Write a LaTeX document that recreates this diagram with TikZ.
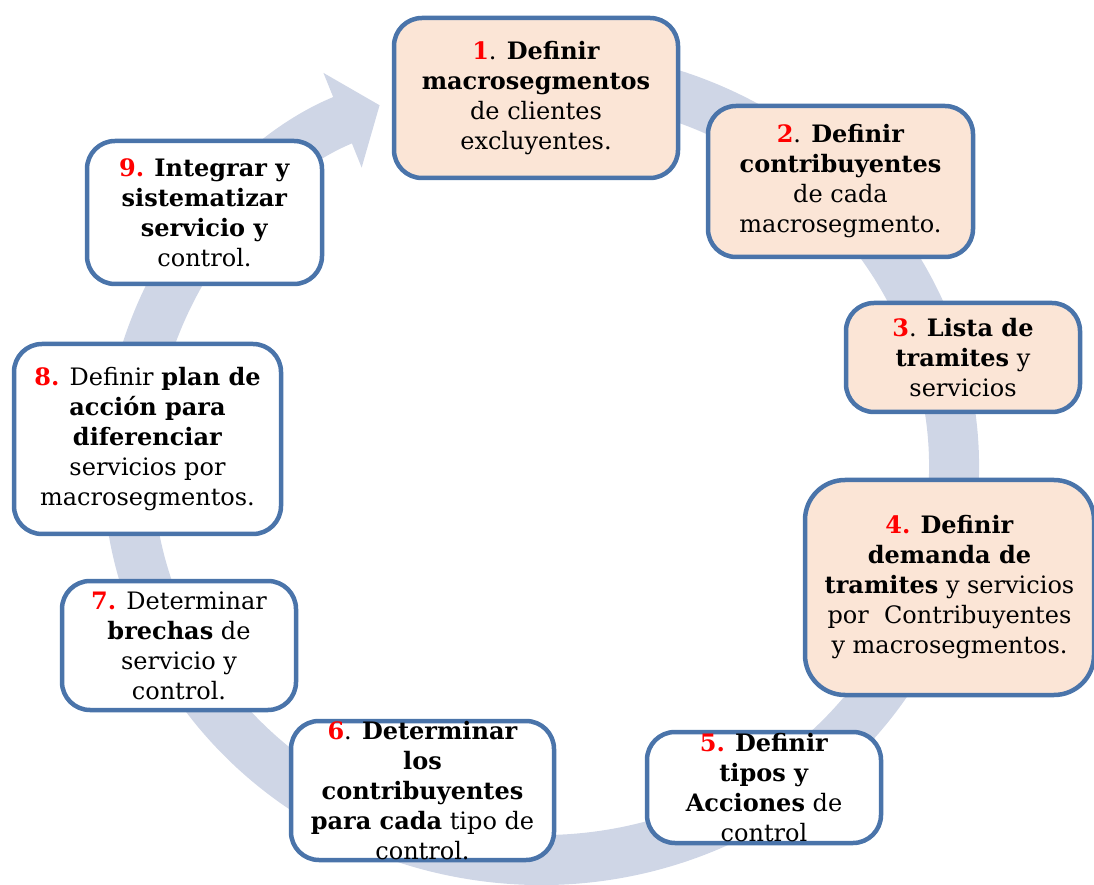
\documentclass[tikz,border=0pt]{standalone}
\usepackage{fontspec}
\setmainfont{DejaVu Serif}
\usepackage{tikz}
\usetikzlibrary{arrows.meta,positioning}

\definecolor{borde}{RGB}{74,116,170}
\definecolor{melocoton}{RGB}{251,229,214}
\definecolor{anillo}{RGB}{207,214,230}
\newcommand{\num}[1]{\textcolor{red}{\textbf{#1}}}

\tikzset{
  paso/.style={draw=borde, line width=4.5pt, rounded corners=28pt, align=center,
    inner sep=0pt, font=\fontsize{24}{30}\selectfont},
  pasoA/.style={paso, fill=melocoton},
  pasoB/.style={paso, fill=white},
  ciclo/.style={draw=anillo, line width=50pt, -{Triangle[width=100pt,length=40pt]}}
}

\begin{document}
\begin{tikzpicture}[x=1pt, y=1pt]
           \useasboundingbox (0,0) rectangle (1094,884);
           % anillo de fondo
           \draw[ciclo] (541,417) ++(80:413 and 393)
              arc[start angle=80, end angle=-247, x radius=413, y radius=393];
           % pasos
           \node [pasoA, minimum width=284, minimum height=160] (P1) at (536,786)
              {\num{1}. \textbf{Definir}\\ \textbf{macrosegmentos}\\ de clientes\\ excluyentes.};
           \node [pasoA, minimum width=265, minimum height=151] (P2) at (840.5,702.5)
              {\num{2}. \textbf{Definir}\\ \textbf{contribuyentes}\\ de cada\\ macrosegmento.};
           \node [pasoA, minimum width=234, minimum height=109] (P3) at (963,526.5)
              {\num{3}. \textbf{Lista de}\\ \textbf{tramites} y\\ servicios};
           \node [pasoA, rounded corners=40pt, minimum width=289, minimum height=215] (P4) at (949.5,296.5)
              {\num{4.} \textbf{Definir}\\ \textbf{demanda de}\\ \textbf{tramites} y servicios\\ por~ Contribuyentes\\ y macrosegmentos.};
           \node [pasoB, minimum width=234, minimum height=111] (P5) at (764,96.5)
              {\num{5.} \textbf{Definir}\\ \textbf{tipos y}\\ \textbf{Acciones} de\\ control};
           \node [pasoB, minimum width=263, minimum height=139] (P6) at (422.5,93.5)
              {\num{6}. \textbf{Determinar}\\ \textbf{los}\\ \textbf{contribuyentes}\\ \textbf{para cada} tipo de\\ control.};
           \node [pasoB, minimum width=234, minimum height=129] (P7) at (179,238.5)
              {\num{7.} Determinar\\ \textbf{brechas} de\\ servicio y\\ control.};
           \node [pasoB, minimum width=267, minimum height=190] (P8) at (147.5,445)
              {\num{8.} Definir \textbf{plan de}\\ \textbf{acción para}\\ \textbf{diferenciar}\\ servicios por\\ macrosegmentos.};
           \node [pasoB, minimum width=235, minimum height=143] (P9) at (204.5,671.5)
              {\num{9.} \textbf{Integrar y}\\ \textbf{sistematizar}\\ \textbf{servicio y}\\ control.};
      \end{tikzpicture}
\end{document}
